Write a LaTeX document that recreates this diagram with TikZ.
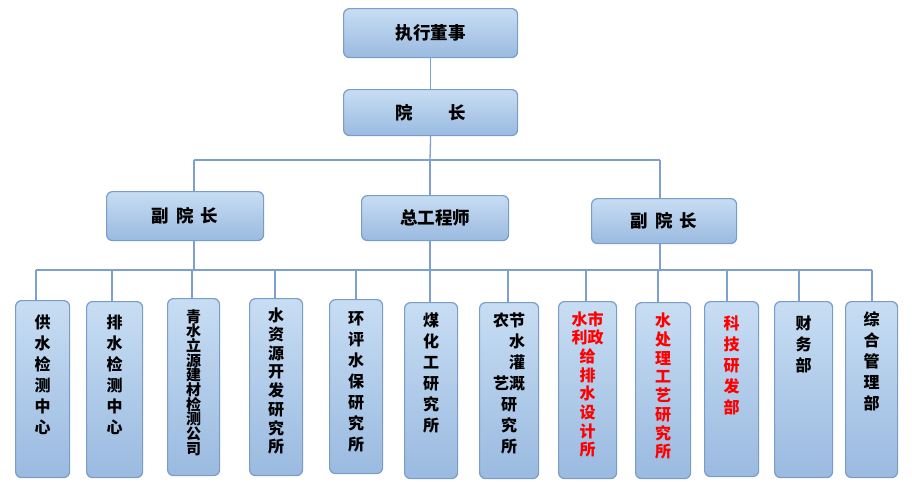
\documentclass[tikz,border=0pt]{standalone}
\usepackage{fontspec}
\newfontfamily\cjk{Noto Sans CJK SC}
\usetikzlibrary{calc}
\definecolor{boxtop}{RGB}{199,221,243}
\definecolor{boxbot}{RGB}{154,186,224}
\definecolor{boxline}{RGB}{122,156,199}
\definecolor{conn}{RGB}{125,160,204}
\tikzset{
  box/.style={draw=boxline, line width=1.2pt, rounded corners=6pt, top color=boxtop, bottom color=boxbot, inner sep=0pt, anchor=north west},
  hbox/.style={box, font=\cjk\bfseries\fontsize{17.5}{17.5}\selectfont},
  vtext/.style={anchor=north, inner sep=0pt, align=center, font=\cjk\bfseries\fontsize{16}{21}\selectfont},
  vtextb/.style={vtext, font=\cjk\bfseries\fontsize{16}{18.7}\selectfont},
  wire/.style={draw=conn, line width=1.3pt},
}
\newcommand{\hb}[6]{\node[hbox, minimum width=#4pt-#2pt, minimum height=#5pt-#3pt] (#1) at (#2,#3) {#6};}
\newcommand{\vb}[5]{\node[box, minimum width=#4pt-#2pt, minimum height=#5pt-#3pt] (#1) at (#2,#3) {};}
\begin{document}
\begin{tikzpicture}[x=1pt,y=-1pt]
\useasboundingbox (0,0) rectangle (912,488);
% top levels
\hb{ceo}{343}{8}{517}{57}{执行董事}
\hb{pres}{343}{89}{517}{135}{院　　长}
\hb{vpl}{106}{191}{263}{240}{副\hspace{7pt}院\hspace{7pt}长}
\hb{cheng}{361}{195}{508}{240}{总工程师}
\hb{vpr}{591}{198}{736}{243}{副\hspace{7pt}院\hspace{7pt}长}
% bottom boxes
\vb{b1}{15}{300}{69}{477}
\vb{b2}{86}{301}{142}{477}
\vb{b3}{167}{298}{219}{475}
\vb{b4}{249}{298}{302}{475}
\vb{b5}{329}{299}{382}{473}
\vb{b6}{404}{302}{457}{478}
\vb{b7}{479}{302}{538}{478}
\vb{b8}{558}{301}{616}{478}
\vb{b9}{635}{302}{690}{478}
\vb{b10}{704}{301}{758}{476}
\vb{b11}{774}{301}{832}{477}
\vb{b12}{845}{301}{897}{477}
% texts
\node[vtext] (t1) at ($(b1.north)+(0,15)$) {供\\水\\检\\测\\中\\心};
\node[vtext] (t2) at ($(b2.north)+(0,14)$) {排\\水\\检\\测\\中\\心};
\node[vtext, font=\cjk\bfseries\fontsize{15}{14.7}\selectfont] (t3) at ($(b3.north)+(0,11)$) {青\\水\\立\\源\\建\\材\\检\\测\\公\\司};
\node[vtextb] (t4) at ($(b4.north)+(0,10)$) {水\\资\\源\\开\\发\\研\\究\\所};
\node[vtext] (t5) at ($(b5.north)+(0,12)$) {环\\评\\水\\保\\研\\究\\所};
\node[vtext] (t6) at ($(b6.north)+(0,11)$) {煤\\化\\工\\研\\究\\所};
\node[vtext] (t7) at ($(b7.north)+(0,11)$) {农节\\　水\\　灌\\艺溉\\研\\究\\所};
\node[vtextb, text=red] (t8) at ($(b8.north)+(0,10)$) {水市\\利政\\给\\排\\水\\设\\计\\所};
\node[vtextb, text=red] (t9) at ($(b9.north)+(0,11)$) {水\\处\\理\\工\\艺\\研\\究\\所};
\node[vtext, text=red] (t10) at ($(b10.north)+(0,15)$) {科\\技\\研\\发\\部};
\node[vtext] (t11) at ($(b11.north)+(0,15)$) {财\\务\\部};
\node[vtext] (t12) at ($(b12.north)+(0,10)$) {综\\合\\管\\理\\部};
% connectors
\coordinate (h1L) at (194,160);
\coordinate (h1R) at (660,160);
\coordinate (h1M) at (430,160);
\coordinate (h2L) at (36,270);
\coordinate (h2R) at (872,270);
\draw[wire] (ceo) -- (pres);
\draw[wire] (pres.south) -- (h1M);
\draw[wire] (h1L) -- (h1R);
\draw[wire] (h1L) -- (h1L |- vpl.north);
\draw[wire] (h1M) -- (h1M |- cheng.north);
\draw[wire] (h1R) -- (h1R |- vpr.north);
\draw[wire] (h2L) -- (h2R);
\coordinate (s1) at (194,270);
\coordinate (s2) at (430,270);
\coordinate (s3) at (660,270);
\draw[wire] (s1 |- vpl.south) -- (s1);
\draw[wire] (s2 |- cheng.south) -- (s2);
\draw[wire] (s3 |- vpr.south) -- (s3);
\foreach \i/\xx in {1/36,2/112,3/192,4/275,5/356,6/430,7/508,8/586,9/658,10/727,11/799,12/872}{
  \coordinate (d\i) at (\xx,270);
  \draw[wire] (d\i) -- (d\i |- b\i.north);
}
\end{tikzpicture}
\end{document}
